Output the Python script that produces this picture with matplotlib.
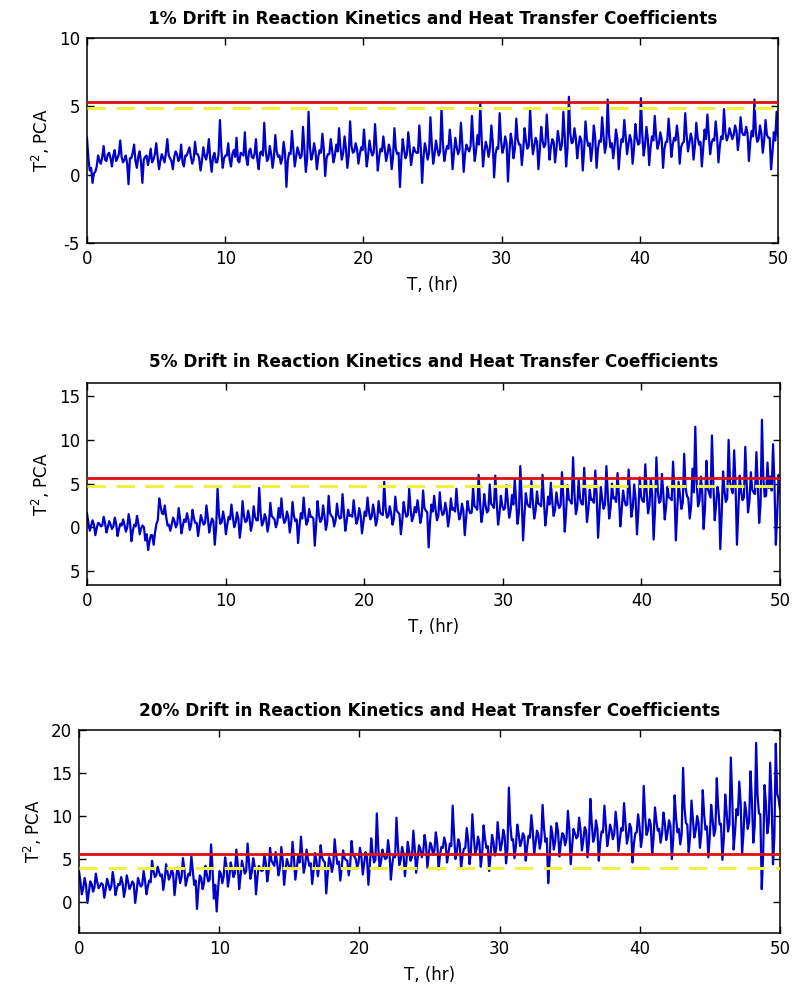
import numpy as np
import matplotlib
matplotlib.use("Agg")
import matplotlib.pyplot as plt

plt.rcParams['font.family'] = ['DejaVu Sans']

titles = ["1% Drift in Reaction Kinetics and Heat Transfer Coefficients",
          "5% Drift in Reaction Kinetics and Heat Transfer Coefficients",
          "20% Drift in Reaction Kinetics and Heat Transfer Coefficients"]

# spike / excursion samples
t2_1pct = [
    2.7, 0.3, -0.6, 0.2, 1.4, 0.8, 2.1, 1.0, 1.6, 0.6,
    1.8, 1.2, 2.5, 0.9, 1.4, -0.7, 1.2, 2.2, 0.5, 1.7,
    -0.6, 1.3, 0.7, 1.9, 1.1, 2.3, 0.4, 1.5, 0.9, 2.6,
    1.2, 0.4, 1.7, 1.0, 2.2, 0.6, 1.4, 2.0, 0.8, 2.4,
    1.5, 0.3, 2.0, 1.1, 2.6, 0.2, 1.6, 0.9, 4.0, 0.5,
    1.4, 2.3, 0.6, 1.8, 2.7, 0.9, 1.5, 3.1, 0.7, 1.9,
    1.2, 2.6, 0.4, 1.7, 3.8, 1.0, 2.1, 0.5, 2.9, 1.3,
    0.8, 2.4, -0.9, 1.6, 3.2, 0.6, 2.0, 1.2, 3.5, 0.2,
    4.6, 1.1, 2.3, 0.4, 1.8, 3.0, -0.1, 1.5, 2.6, 0.9,
    2.2, 3.4, 1.1, 2.8, 0.5, 3.9, 1.6, 2.3, 0.8, 2.0,
    3.3, 0.6, 2.5, 1.4, 3.7, 0.3, 1.9, 2.8, 1.0, 2.2,
    0.4, 3.4, 1.5, -0.9, 2.6, 1.2, 3.1, 0.7, 2.0, 1.6,
    3.6, -0.6, 2.3, 1.1, 4.2, 0.8, 2.5, 1.4, 4.9, 1.0,
    2.1, 3.3, 0.4, 2.7, 1.5, 3.8, 0.2, 2.2, 1.7, 4.3,
    1.0, 2.9, 5.2, 0.6, 2.4, 1.3, 3.6, -0.2, 2.0, 4.5,
    1.6, 2.8, -0.5, 3.0, 1.2, 4.1, 2.2, 0.7, 3.4, 1.9,
    4.8, 1.5, 2.7, 0.4, 3.5, 2.0, 4.4, 1.1, 2.6, 0.9,
    3.2, 1.8, 4.6, 0.6, 5.7, 2.3, 3.4, 1.2, 2.8, 0.3,
    3.9, 2.1, 1.0, 3.6, 0.5, 2.5, 4.2, 1.6, 5.5, 2.0,
    1.2, 3.3, 0.4, 2.6, 4.0, 1.5, 2.9, 0.8, 3.7, 2.2,
    5.6, 1.4, 3.5, 0.7, 2.8, 4.3, 1.9, 3.1, 0.5, 2.4,
    4.1, 1.3, 2.7, 3.6, 0.8, 2.3, 4.5, 1.7, 3.0, 1.1,
    3.8, 2.2, 0.6, 3.3, 4.4, 1.5, 2.6, 3.9, 0.9, 2.8,
    4.8, 2.5, 3.4, 2.6, 3.6, 1.8, 4.2, 2.9, 3.5, 1.0,
    3.2, 5.5, 2.4, 3.6, 1.6, 4.0, 2.7, 0.4, 3.1, 4.6]

# band-core samples
t2_1pct_core = [
    1.2, 0.5, 0.1, 0.6, 1.0, 1.3, 1.1, 1.5, 1.2, 1.4,
    1.0, 1.5, 1.3, 1.1, 0.8, 1.2, 1.6, 1.0, 1.3, 0.9,
    1.1, 1.4, 1.2, 0.9, 1.5, 1.3, 1.0, 1.2, 1.6, 1.4,
    1.0, 1.3, 1.5, 1.2, 0.9, 1.4, 1.7, 1.3, 1.1, 1.5,
    1.2, 1.0, 1.4, 1.6, 1.1, 1.3, 0.9, 1.5, 1.8, 1.2,
    1.4, 1.1, 1.5, 1.3, 1.0, 1.6, 1.4, 1.2, 1.7, 1.3,
    1.5, 1.1, 1.6, 1.4, 1.8, 1.2, 1.5, 1.3, 1.7, 1.4,
    1.2, 1.6, 1.0, 1.5, 1.9, 1.3, 1.6, 1.4, 1.8, 1.2,
    2.0, 1.5, 1.7, 1.3, 1.6, 1.9, 1.2, 1.5, 1.8, 1.4,
    1.7, 2.0, 1.6, 1.9, 1.4, 2.1, 1.7, 1.9, 1.5, 1.8,
    2.0, 1.4, 1.8, 1.6, 2.1, 1.3, 1.7, 1.9, 1.5, 1.8,
    1.3, 1.9, 1.6, 1.2, 1.8, 1.5, 2.0, 1.4, 1.7, 1.6,
    2.0, 1.3, 1.8, 1.6, 2.2, 1.5, 1.9, 1.7, 2.3, 1.6,
    1.9, 2.2, 1.6, 2.0, 1.8, 2.3, 1.5, 1.9, 2.1, 2.4,
    1.8, 2.2, 2.6, 1.7, 2.0, 1.9, 2.4, 1.5, 1.9, 2.5,
    2.0, 2.3, 1.6, 2.4, 1.9, 2.6, 2.2, 1.8, 2.5, 2.1,
    2.7, 2.1, 2.4, 1.8, 2.5, 2.2, 2.8, 2.0, 2.4, 1.9,
    2.5, 2.2, 2.8, 1.9, 3.0, 2.4, 2.7, 2.1, 2.5, 1.8,
    2.6, 2.3, 2.0, 2.7, 1.9, 2.4, 2.8, 2.2, 2.9, 2.3,
    2.1, 2.6, 1.8, 2.4, 2.8, 2.2, 2.5, 1.9, 2.7, 2.3,
    2.9, 2.2, 2.6, 2.0, 2.5, 2.8, 2.3, 2.6, 1.9, 2.4,
    2.8, 2.2, 2.5, 2.7, 2.0, 2.4, 2.9, 2.3, 2.6, 2.1,
    2.7, 2.4, 2.0, 2.6, 2.9, 2.3, 2.5, 2.8, 2.1, 2.6,
    3.1, 2.8, 3.0, 2.9, 3.2, 2.7, 3.1, 2.9, 3.0, 2.4,
    2.8, 3.1, 2.6, 3.0, 2.5, 2.9, 2.7, 1.6, 2.5, 2.8]

t2_5pct = [
    1.6, -0.4, 0.8, -0.9, 0.5, 0.1, 1.2, -0.6, 0.7, -0.2,
    1.1, -1.0, 0.4, 0.9, -0.5, 1.5, -1.6, 0.3, 1.3, -0.8,
    0.2, -1.5, -2.6, -0.9, -2.0, 0.4, 3.3, 1.6, 2.5, 0.2,
    -0.4, 1.1, 0.0, 2.2, -0.7, 0.9, 1.6, -0.3, 2.0, 0.5,
    -1.0, 1.4, 0.3, 2.5, -0.6, 1.0, -2.0, 4.4, 0.4, 1.8,
    -0.8, 1.2, 2.6, 0.0, 1.7, -1.2, 3.0, 0.6, 1.9, -0.4,
    2.4, 0.8, 4.5, 0.2, 1.5, -0.5, 2.8, 1.1, 0.0, 2.2,
    3.3, 0.5, 1.8, -0.6, 2.9, 0.7, -1.8, 1.6, 3.4, 0.3,
    2.1, 1.2, -2.1, 3.0, 0.6, 2.5, -0.3, 3.6, 1.3, 0.1,
    2.7, 1.0, 3.8, -0.4, 2.0, 1.4, 3.1, 0.4, 2.2, -0.7,
    1.8, 3.4, 0.9, 2.6, 0.2, 3.0, 1.5, 5.2, 1.1, 2.4,
    0.3, 3.5, 1.7, -0.8, 2.9, 1.2, 4.4, 0.7, 2.3, 3.1,
    0.5, 4.2, 1.9, -2.3, 2.6, 3.6, 0.8, 4.0, 1.4, 2.8,
    0.1, 3.3, 2.2, 4.4, 0.9, 2.7, -0.9, 3.0, 1.6, 4.6,
    2.3, 6.0, 0.6, 3.8, 1.7, 4.9, 2.5, 5.9, 0.3, 3.6,
    2.0, 4.8, 1.1, 3.7, 5.5, 0.4, 7.0, -1.5, 3.9, 2.4,
    5.3, 1.0, 4.1, 2.6, 6.0, 0.2, 3.5, 5.1, 1.3, 4.0,
    2.2, 6.3, -0.5, 4.8, 3.0, 8.0, 1.5, 5.4, 2.7, 6.8,
    0.6, 4.3, 3.2, 6.5, -1.2, 4.6, 2.1, 7.0, 1.0, 5.0,
    3.4, 6.2, 0.1, 4.2, 2.5, 6.6, 1.2, 4.9, -0.8, 5.7,
    3.0, 7.2, 1.6, 5.5, -1.4, 8.0, 2.8, 6.1, 0.9, 4.6,
    3.3, 7.5, -1.5, 5.2, 2.1, 8.4, 3.6, 1.0, 6.7, 11.5,
    2.4, 5.8, -0.2, 7.6, 3.9, 10.5, 0.8, 4.6, -2.5, 6.4,
    2.9, 10.0, 4.4, 8.8, -2.0, 5.9, 3.1, 9.2, 1.7, 6.3,
    4.0, 8.6, 0.5, 12.3, 3.5, 7.4, 5.8, 9.5, -2.0, 6.0]

t2_5pct_core = [
    0.5, 0.2, 0.3, -0.1, 0.4, 0.2, 0.5, 0.0, 0.3, 0.1,
    0.4, -0.2, 0.2, 0.3, 0.0, 0.5, -0.4, 0.1, 0.4, -0.1,
    0.0, -0.8, -1.6, -0.9, -0.6, 0.8, 2.4, 1.5, 1.2, 0.3,
    0.3, 0.7, 0.4, 1.0, 0.2, 0.6, 0.9, 0.3, 1.0, 0.5,
    0.2, 0.8, 0.5, 1.1, 0.3, 0.7, 0.0, 1.5, 0.6, 0.9,
    0.3, 0.9, 1.2, 0.5, 1.0, 0.2, 1.3, 0.7, 1.1, 0.4,
    1.2, 0.8, 1.6, 0.6, 1.0, 0.4, 1.3, 0.9, 0.5, 1.1,
    1.4, 0.8, 1.1, 0.5, 1.3, 0.9, 0.2, 1.0, 1.5, 0.7,
    1.2, 1.0, 0.3, 1.4, 0.9, 1.3, 0.6, 1.6, 1.1, 0.8,
    1.4, 1.1, 1.7, 0.7, 1.3, 1.2, 1.6, 0.9, 1.4, 0.6,
    1.3, 1.8, 1.2, 1.6, 0.9, 1.7, 1.4, 2.2, 1.3, 1.6,
    1.0, 1.9, 1.5, 0.7, 1.8, 1.4, 2.1, 1.2, 1.7, 1.9,
    1.3, 2.2, 1.7, 0.6, 1.8, 2.0, 1.3, 2.1, 1.6, 1.9,
    1.2, 2.0, 1.8, 2.3, 1.4, 1.9, 1.0, 2.0, 1.7, 2.4,
    2.0, 2.9, 1.6, 2.5, 1.9, 2.7, 2.2, 2.9, 1.5, 2.5,
    2.2, 2.9, 1.9, 2.6, 3.0, 1.7, 3.3, 1.4, 2.7, 2.3,
    3.0, 1.9, 2.7, 2.4, 3.2, 1.7, 2.6, 3.0, 2.0, 2.8,
    2.5, 3.4, 1.8, 3.2, 2.7, 3.9, 2.3, 3.3, 2.6, 3.6,
    2.0, 3.1, 2.8, 3.7, 1.6, 3.2, 2.6, 3.8, 2.2, 3.3,
    2.9, 3.6, 2.0, 3.1, 2.6, 3.8, 2.3, 3.3, 1.8, 3.5,
    2.9, 4.0, 2.5, 3.6, 1.9, 4.2, 3.0, 3.8, 2.4, 3.4,
    3.1, 4.1, 2.0, 3.6, 2.8, 4.5, 3.3, 2.4, 4.0, 5.2,
    3.0, 4.0, 2.2, 4.4, 3.4, 5.0, 2.6, 3.7, 1.5, 4.2,
    3.3, 5.2, 3.9, 4.8, 2.0, 4.1, 3.4, 5.0, 3.0, 4.3,
    3.8, 4.9, 2.6, 5.6, 3.6, 4.5, 4.2, 5.0, 1.5, 4.0]

t2_20pct = [
    3.6, 0.9, 2.8, -0.1, 2.4, 1.2, 3.3, 1.6, 2.2, 0.5,
    2.7, 1.4, 3.5, 0.8, 2.1, 2.9, 0.6, 3.1, 1.5, 2.4,
    -0.1, 2.8, 1.8, 3.6, 0.9, 2.5, 4.8, 2.9, 4.1, 3.0,
    1.4, 4.4, 2.6, 3.8, 0.8, 4.0, 2.2, 5.1, 1.9, 3.3,
    5.3, 2.0, -0.8, 3.1, 1.5, 4.2, 2.4, 6.7, 0.4, -1.1,
    3.6, 2.2, 5.2, 1.8, 4.6, 2.9, 6.1, 1.5, 4.8, 3.3,
    6.8, 2.7, 5.1, 0.9, 4.2, 3.6, 5.6, 2.4, 6.3, 4.5,
    5.8, 3.1, 6.4, 2.0, 5.0, 3.9, 7.0, 2.6, 5.3, 7.6,
    3.4, 6.1, 4.2, 2.1, 5.7, 3.0, 6.6, 4.8, 1.0, 5.2,
    3.5, 7.3, 4.4, 2.5, 6.0, 4.9, 3.1, 7.1, 5.3, 4.0,
    6.3, 3.2, 5.8, 2.0, 7.4, 4.6, 10.3, 3.9, 6.1, 5.0,
    7.2, 2.6, 5.5, 9.8, 4.3, 6.4, 3.0, 7.0, 4.8, 8.3,
    3.4, 6.6, 5.2, 7.8, 4.0, 6.9, 5.5, 8.1, 3.8, 6.4,
    7.5, 4.6, 6.8, 11.2, 5.0, 7.3, 3.9, 6.2, 8.6, 4.4,
    10.2, 5.7, 7.6, 4.1, 8.9, 6.3, 3.6, 7.8, 5.4, 9.3,
    6.0, 8.4, 4.5, 13.3, 7.2, 5.1, 9.0, 6.5, 8.0, 4.8,
    7.7, 10.1, 5.6, 8.3, 6.2, 11.3, 7.0, 2.2, 8.8, 6.1,
    9.2, 5.3, 8.0, 6.6, 10.6, 4.4, 8.5, 7.4, 9.8, 6.0,
    8.7, 5.2, 12.0, 7.0, 9.5, 4.8, 8.2, 11.2, 6.5, 9.0,
    7.3, 10.5, 5.9, 8.6, 11.5, 6.8, 9.1, 4.6, 8.0, 10.2,
    6.4, 13.5, 7.8, 9.6, 5.5, 11.0, 8.3, 6.9, 10.4, 7.2,
    9.5, 5.0, 12.4, 8.1, 6.7, 15.6, 9.2, 5.8, 11.8, 7.5,
    10.0, 6.3, 13.0, 8.4, 5.2, 11.3, 7.7, 14.4, 9.0, 4.9,
    12.5, 8.2, 16.8, 6.1, 10.8, 14.0, 5.6, 11.6, 8.5, 15.2,
    6.9, 18.5, 10.3, 1.5, 13.6, 8.0, 16.2, 4.4, 18.4, 12.0]

t2_20pct_core = [
    2.4, 1.6, 2.0, 1.2, 2.1, 1.7, 2.3, 1.9, 2.0, 1.5,
    2.1, 1.8, 2.4, 1.6, 2.0, 2.2, 1.5, 2.3, 1.9, 2.1,
    1.2, 2.2, 2.0, 2.5, 1.8, 2.3, 3.6, 3.1, 3.5, 3.2,
    2.6, 3.5, 3.0, 3.3, 2.4, 3.4, 2.9, 3.8, 2.7, 3.1,
    3.6, 2.5, 1.6, 2.8, 2.2, 3.2, 2.6, 4.0, 2.0, 1.5,
    3.3, 3.0, 4.1, 2.9, 3.8, 3.4, 4.4, 3.0, 4.0, 3.6,
    4.6, 3.5, 4.2, 2.9, 3.9, 3.7, 4.5, 3.6, 4.8, 4.2,
    4.6, 3.9, 4.9, 3.6, 4.4, 4.1, 5.1, 3.9, 4.6, 5.3,
    4.3, 5.0, 4.5, 3.7, 4.8, 4.1, 5.2, 4.6, 3.2, 4.7,
    4.3, 5.5, 4.7, 4.0, 5.1, 4.8, 4.2, 5.5, 5.0, 4.6,
    5.3, 4.5, 5.2, 4.1, 5.7, 4.9, 6.4, 4.7, 5.4, 5.1,
    5.8, 4.4, 5.2, 6.6, 4.9, 5.6, 4.6, 5.9, 5.2, 6.2,
    5.0, 6.2, 5.8, 6.7, 5.6, 6.5, 6.0, 6.9, 5.5, 6.3,
    6.8, 5.7, 6.5, 7.8, 5.9, 6.8, 5.4, 6.3, 7.2, 5.9,
    7.6, 6.1, 6.9, 5.6, 7.4, 6.5, 5.5, 7.0, 6.2, 7.5,
    6.8, 7.6, 6.2, 9.0, 7.3, 6.5, 7.9, 7.0, 7.6, 6.4,
    7.5, 8.3, 6.8, 7.8, 7.1, 8.6, 7.4, 5.0, 7.9, 7.1,
    8.2, 6.9, 7.8, 7.3, 8.6, 6.5, 8.0, 7.6, 8.4, 7.2,
    8.3, 7.0, 9.2, 7.6, 8.5, 6.9, 8.1, 9.0, 7.5, 8.4,
    7.9, 8.9, 7.2, 8.3, 9.2, 7.6, 8.6, 6.8, 8.1, 8.8,
    7.6, 10.0, 8.3, 9.0, 7.4, 9.4, 8.5, 7.9, 9.2, 8.1,
    8.9, 7.3, 9.8, 8.5, 7.9, 11.0, 9.0, 7.6, 9.6, 8.3,
    9.2, 7.9, 10.2, 8.8, 7.5, 9.6, 8.4, 11.0, 9.1, 7.4,
    10.5, 9.0, 12.0, 8.2, 10.1, 11.5, 8.0, 10.4, 9.3, 11.8,
    8.8, 12.5, 10.2, 5.5, 11.4, 9.2, 12.0, 7.6, 12.6, 10.8]

series = [(t2_1pct, t2_1pct_core), (t2_5pct, t2_5pct_core), (t2_20pct, t2_20pct_core)]
limit_red = [5.3, 5.6, 5.6]
limit_yellow = [4.85, 4.7, 3.95]
ylims = [(-5, 10), (-6.6, 16.5), (-3.6, 20)]
yticks = [[-5, 0, 5, 10], [-5, 0, 5, 10, 15], [0, 5, 10, 15, 20]]
yticklabels = [["-5", "0", "5", "10"], ["5", "0", "5", "10", "15"],
               ["0", "5", "10", "15", "20"]]
xticks = [0, 10, 20, 30, 40, 50]

W, H = 793, 985
fig = plt.figure(figsize=(W / 100, H / 100), dpi=100)
boxes = [(87, 778, 38, 243), (87, 780, 383, 585), (79, 780, 730, 933)]
title_y = [19, 362, 711]

for i in range(3):
    l, r, tp, b = boxes[i]
    ax = fig.add_axes([l / W, 1 - b / H, (r - l) / W, (b - tp) / H])
    spikes, core = series[i]
    y = np.column_stack([np.array(spikes), np.array(core)]).ravel()
    t = np.linspace(0, 50, len(y))
    ax.plot(t, y, color='#0000cc', lw=1.6, zorder=2)
    ax.axhline(limit_yellow[i], color='#f0f040', lw=2.2, ls=(0, (6, 3.5)), zorder=3)
    ax.axhline(limit_red[i], color='#dd1010', lw=2.0, zorder=4)
    ax.set_xlim(0, 50)
    ax.set_ylim(*ylims[i])
    ax.set_xticks(xticks)
    ax.set_xticklabels([str(v) for v in xticks])
    ax.set_yticks(yticks[i])
    ax.set_yticklabels(yticklabels[i])
    ax.tick_params(direction='in', length=5, width=1, top=True, right=True,
                   labelsize=12, pad=5)
    for s in ax.spines.values():
        s.set_linewidth(1.1)
    ax.set_xlabel("T, (hr)", fontsize=12, labelpad=6)
    ax.set_ylabel("T$^2$, PCA", fontsize=12, labelpad=5)
    fig.text(0.5 * (l + r) / W, 1 - title_y[i] / H, titles[i], ha='center',
             va='center', fontsize=12.2, fontweight='bold')

fig.savefig("out.png", dpi=100)
